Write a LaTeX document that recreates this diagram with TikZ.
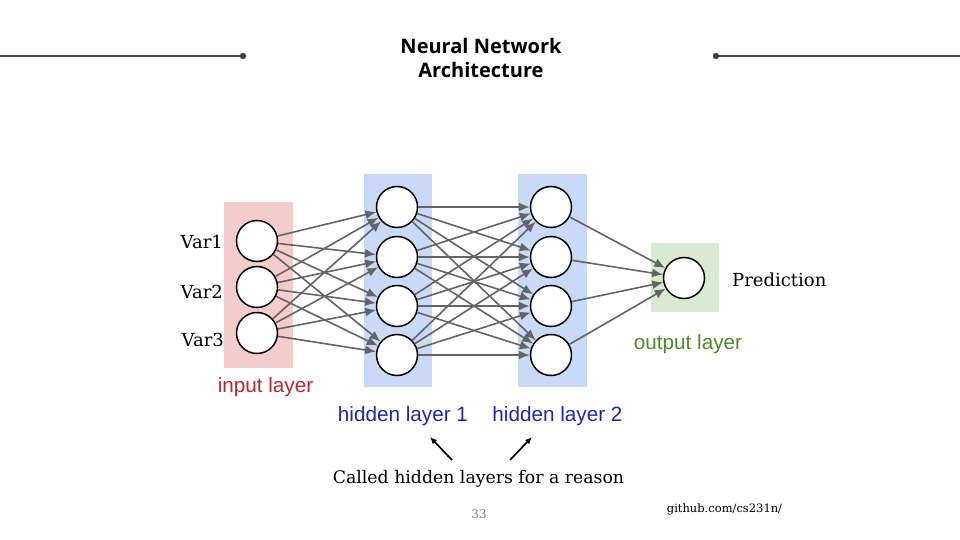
\documentclass[tikz,border=0pt]{standalone}
\usepackage{fontspec}
\setmainfont{DejaVu Serif}
\newfontfamily\arialf{Liberation Sans}
\newfontfamily\titlef{Open Sans}
\usetikzlibrary{arrows.meta}
\definecolor{pinkbg}{RGB}{244,204,204}
\definecolor{bluebg}{RGB}{201,218,248}
\definecolor{greenbg}{RGB}{217,234,211}
\definecolor{redtxt}{RGB}{185,40,45}
\definecolor{greentxt}{RGB}{78,138,45}
\definecolor{bluetxt}{RGB}{32,42,160}
\definecolor{edgegray}{RGB}{100,100,100}
\definecolor{rulegray}{RGB}{68,68,68}
\tikzset{
  neuron/.style={circle,draw=black,fill=white,line width=1.5pt,minimum size=41pt,inner sep=0pt},
  conn/.style={draw=edgegray,line width=1.6pt,-{Latex[length=11pt,width=9pt]}},
  serifl/.style={font=\fontsize{18}{22}\selectfont,inner sep=0pt},
  sansl/.style={font=\arialf\fontsize{20.7}{24}\selectfont,inner sep=0pt},
  pointer/.style={draw=black,line width=1.7pt,-{Latex[length=7pt,width=6pt]}},
}
\begin{document}
\begin{tikzpicture}[x=1pt,y=-1pt]
\useasboundingbox[fill=white] (0,0) rectangle (960,540);
% header rules
\draw[rulegray,line width=2pt] (0,56) -- (243,56);
\fill[rulegray] (243,56) circle (3.2);
\draw[rulegray,line width=2pt] (716,56) -- (960,56);
\fill[rulegray] (716,56) circle (3.2);
\node[align=center,inner sep=0pt,font=\titlef\bfseries\fontsize{20}{24}\selectfont] (title) at (481,58) {Neural Network\\Architecture};
% layer backgrounds
\fill[pinkbg] (224,202) rectangle (293,368);
\fill[bluebg] (364,174) rectangle (432,387);
\fill[bluebg] (518,174) rectangle (587,387);
\fill[greenbg] (651,243) rectangle (719,312);
% neurons
\node[neuron] (i1) at (257,241) {};
\node[neuron] (i2) at (257,287) {};
\node[neuron] (i3) at (257,333) {};
\node[neuron] (a1) at (397,207) {};
\node[neuron] (a2) at (397,257) {};
\node[neuron] (a3) at (397,306) {};
\node[neuron] (a4) at (397,355) {};
\node[neuron] (b1) at (551,207) {};
\node[neuron] (b2) at (551,257) {};
\node[neuron] (b3) at (551,306) {};
\node[neuron] (b4) at (551,355) {};
\node[neuron] (o1) at (684,278) {};
% connections
\foreach \s in {i1,i2,i3}{\foreach \t in {a1,a2,a3,a4}{\draw[conn] (\s) -- (\t);}}
\foreach \s in {a1,a2,a3,a4}{\foreach \t in {b1,b2,b3,b4}{\draw[conn] (\s) -- (\t);}}
\foreach \s in {b1,b2,b3,b4}{\draw[conn] (\s) -- (o1);}
% labels
\node[serifl,anchor=east] (v1) at (223,242) {Var1};
\node[serifl,anchor=east] (v2) at (223,292) {Var2};
\node[serifl,anchor=east] (v3) at (224,340) {Var3};
\node[serifl,anchor=west] (pred) at (732,280) {Prediction};
\node[sansl,text=redtxt] (inl) at (265.5,387.5) {input layer};
\node[sansl,text=greentxt] (outl) at (688,344) {output layer};
\node[sansl,text=bluetxt] (h1l) at (403,416) {hidden layer 1};
\node[sansl,text=bluetxt] (h2l) at (557.5,416) {hidden layer 2};
\node[inner sep=0pt,font=\fontsize{17.3}{21}\selectfont] (called) at (478.5,479) {Called hidden layers for a reason};
\coordinate (p1s) at (452,460);
\coordinate (p1e) at (430,437);
\coordinate (p2s) at (510,460);
\coordinate (p2e) at (532,437);
\draw[pointer] (p1s) -- (p1e);
\draw[pointer] (p2s) -- (p2e);
\node[inner sep=0pt,text=gray,font=\fontsize{12}{14}\selectfont] (pg) at (479,514) {33};
\node[inner sep=0pt,font=\fontsize{11.5}{14}\selectfont] (gh) at (724.5,509) {github.com/cs231n/};
\end{tikzpicture}
\end{document}
